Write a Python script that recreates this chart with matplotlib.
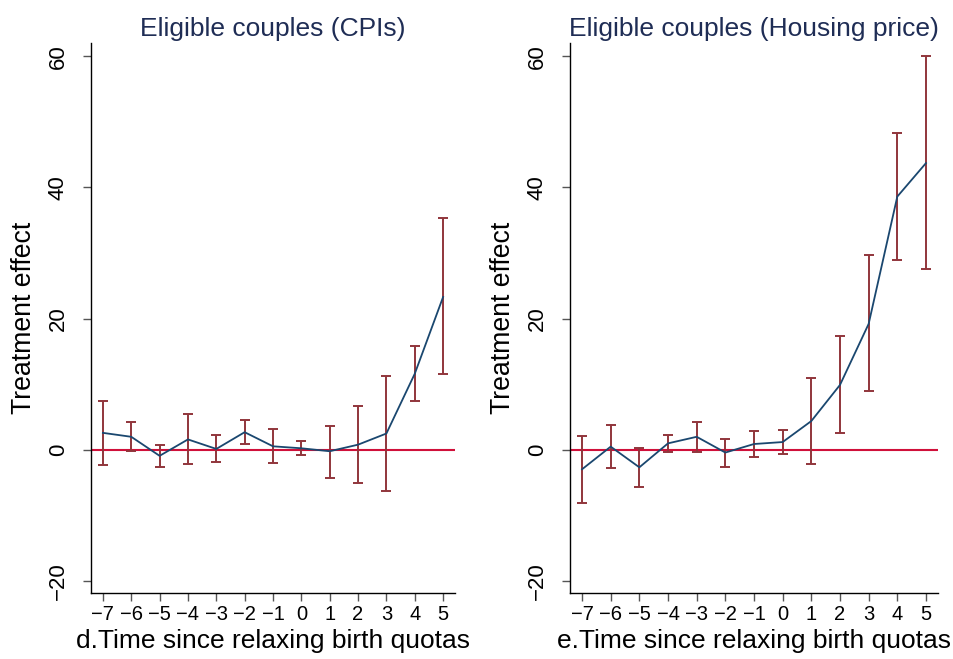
import matplotlib
matplotlib.use("Agg")
import matplotlib.pyplot as plt
import numpy as np

plt.rcParams['font.family'] = ['Liberation Sans', 'DejaVu Sans']

periods = [-7, -6, -5, -4, -3, -2, -1, 0, 1, 2, 3, 4, 5]

# Panel d: CPIs
cpi_est = [2.6, 2.0, -0.9, 1.6, 0.15, 2.7, 0.55, 0.25, -0.2, 0.8, 2.5, 11.6, 23.3]
cpi_low = [-2.3, -0.2, -2.6, -2.1, -1.9, 0.9, -2.0, -0.76, -4.3, -5.0, -6.3, 7.4, 11.6]
cpi_high = [7.5, 4.2, 0.7, 5.5, 2.2, 4.5, 3.2, 1.4, 3.65, 6.7, 11.3, 15.9, 35.4]

# Panel e: Housing price
hp_est = [-2.95, 0.5, -2.65, 1.0, 2.0, -0.4, 0.9, 1.2, 4.4, 9.9, 19.2, 38.6, 43.7]
hp_low = [-8.1, -2.7, -5.7, -0.25, -0.3, -2.6, -1.07, -0.56, -2.1, 2.6, 9.0, 28.9, 27.6]
hp_high = [2.1, 3.8, 0.3, 2.2, 4.3, 1.7, 2.85, 3.0, 11.0, 17.4, 29.7, 48.3, 60.0]

titles = ["Eligible couples (CPIs)", "Eligible couples (Housing price)"]
xlabels = ["d.Time since relaxing birth quotas", "e.Time since relaxing birth quotas"]
ylabel = "Treatment effect"
yticks = [-20, 0, 20, 40, 60]
xtick_labels = ["\u22127", "\u22126", "\u22125", "\u22124", "\u22123", "\u22122", "\u22121",
                "0", "1", "2", "3", "4", "5"]
ytick_labels = ["\u221220", "0", "20", "40", "60"]

W, H = 954, 659
fig = plt.figure(figsize=(W / 100, H / 100), dpi=100)

navy = "#1a476f"
maroon = "#90353b"
red = "#d0103a"
title_col = "#1f2d55"

axes_px = [(91, 455), (570, 938)]
top, bottom = 43, 593

data = [(cpi_est, cpi_low, cpi_high), (hp_est, hp_low, hp_high)]

for i, ((l, r), (est, lo, hi)) in enumerate(zip(axes_px, data)):
    ax = fig.add_axes([l / W, 1 - bottom / H, (r - l) / W, (bottom - top) / H])
    x = np.array(periods)
    est = np.array(est); lo = np.array(lo); hi = np.array(hi)
    ax.axhline(0, color=red, lw=1.5, zorder=1)
    ax.errorbar(x, est, yerr=[est - lo, hi - est], fmt='none', ecolor=maroon,
                elinewidth=1.4, capsize=3.8, capthick=1.4, zorder=2)
    ax.plot(x, est, color=navy, lw=1.3, zorder=3)
    ax.set_xlim(-7.42, 5.42)
    ax.set_ylim(-21.8, 62)
    ax.set_xticks(periods)
    ax.set_xticklabels(xtick_labels, fontsize=14.5)
    ax.set_yticks(yticks)
    ax.set_yticklabels(ytick_labels, fontsize=16, rotation=90, va='center')
    for s in ['top', 'right']:
        ax.spines[s].set_visible(False)
    for s in ['left', 'bottom']:
        ax.spines[s].set_linewidth(1.0)
        ax.spines[s].set_color('black')
    ax.tick_params(axis='both', length=5.5, width=1.0, color='#555555')
    ax.tick_params(axis='x', pad=3.5)
    ax.tick_params(axis='y', pad=10.5)
    ax.set_xlabel(xlabels[i], fontsize=19, labelpad=3)
    ax.set_ylabel(ylabel, fontsize=19.2, labelpad=7.5)
    ax.set_title(titles[i], fontsize=19, color=title_col, pad=5)

fig.savefig("out.png", dpi=100)
